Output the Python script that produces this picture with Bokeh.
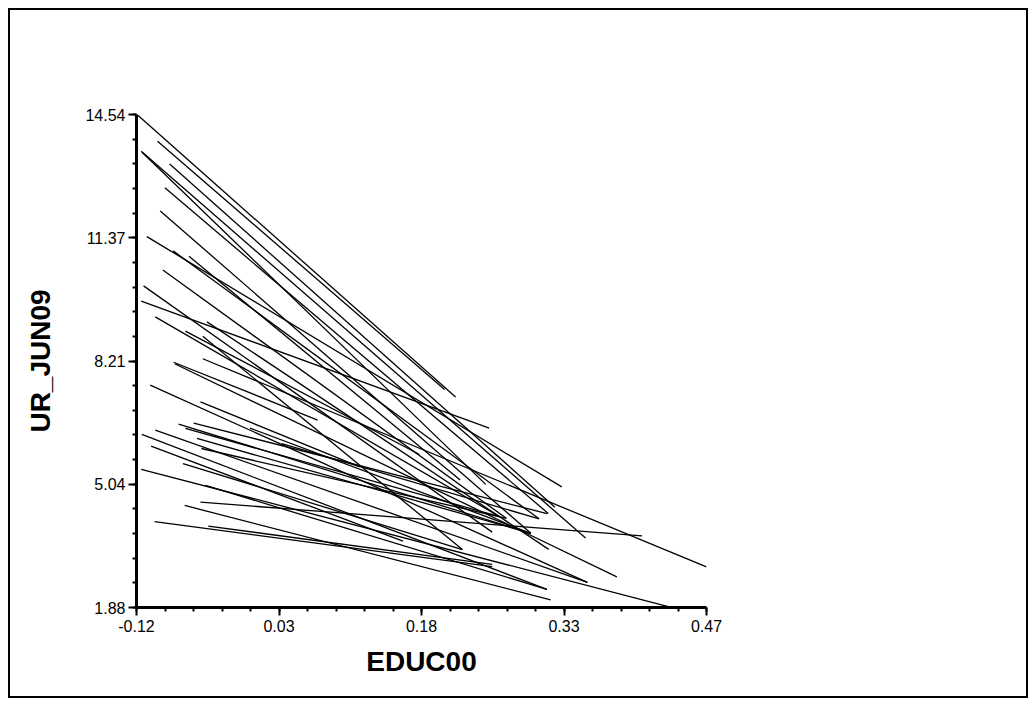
import numpy as np
from bokeh.plotting import figure
from bokeh.models import Range1d, FixedTicker, ColumnDataSource
from bokeh.embed import file_html
from bokeh.resources import INLINE

# Axis extents and printed tick labels
x_min, x_max = -0.12, 0.47
y_min, y_max = 1.88, 14.54
x_tick_labels = ["-0.12", "0.03", "0.18", "0.33", "0.47"]
y_tick_labels = ["1.88", "5.04", "8.21", "11.37", "14.54"]

# Fitted segments: EDUC00 (x) against UR_JUN09 (y), one per group
x_start = [-0.1186, -0.0982, -0.1151, -0.1143, -0.0857, -0.0906, -0.0954, -0.1093,
           -0.0821, -0.0657, -0.0927, -0.1127, -0.1151, -0.1006, -0.0470, -0.0694,
           -0.0514, -0.0514, -0.0816, -0.0805, -0.1058, -0.0538, -0.0764, -0.0608,
           -0.1006, -0.1145, -0.1049, -0.0026, 0.0303, -0.0719, -0.1151, -0.0538,
           -0.0701, -0.1013, -0.0457, -0.0694, -0.0574, -0.0528, -0.0486]
y_start = [14.52, 13.851, 13.598, 13.572, 13.268, 12.656, 12.062, 11.404,
           11.038, 10.901, 10.547, 10.139, 9.747, 9.344, 9.215, 8.978,
           8.844, 8.268, 8.178, 8.139, 7.589, 7.158, 6.591, 6.616,
           6.436, 6.325, 6.023, 6.487, 6.087, 5.576, 5.429, 4.585,
           4.500, 4.087, 3.971, 6.479, 6.221, 5.963, 5.016]
x_end = [0.2103, 0.1989, 0.3448, 0.2415, 0.3131, 0.3063, 0.2882, 0.3202,
         0.2967, 0.2150, 0.2628, 0.2482, 0.2451, 0.2560, 0.3067, 0.1729,
         0.2173, 0.4700, 0.0675, 0.3772, 0.3467, 0.1111, 0.2882, 0.3048,
         0.3467, 0.3048, 0.1558, 0.2882, 0.2967, 0.2173, 0.4315, 0.4032,
         0.3087, 0.2482, 0.2482, 0.2560, 0.2882, 0.2628, 0.3048]
y_end = [7.287, 7.481, 3.666, 5.042, 4.456, 4.293, 3.785, 4.977,
         4.157, 5.153, 4.170, 3.816, 6.487, 4.211, 3.372, 5.808,
         3.369, 2.925, 6.694, 2.667, 2.525, 5.493, 3.785, 4.293,
         2.525, 2.345, 3.584, 3.785, 4.157, 3.369, 1.893, 3.718,
         2.074, 2.931, 2.990, 4.211, 3.785, 4.170, 2.345]

src = ColumnDataSource(dict(x0=x_start, y0=y_start, x1=x_end, y1=y_end))

p = figure(width=1016, height=686, output_backend="svg", toolbar_location=None,
           x_range=Range1d(x_min, x_max), y_range=Range1d(y_min, y_max),
           min_border_left=126, min_border_right=324,
           min_border_top=104, min_border_bottom=93,
           x_axis_label="EDUC00", y_axis_label="UR_JUN09")
# thin frame around the whole page
p.styles = {"margin": "8px 0 0 8px", "border": "2px solid black",
            "box-sizing": "content-box"}
p.outline_line_color = None
p.background_fill_color = "white"
p.border_fill_color = "white"
p.grid.visible = False

p.segment(x0="x0", y0="y0", x1="x1", y1="y1", source=src,
          line_color="black", line_width=1.3)

x_major = list(np.linspace(x_min, x_max, 5))
y_major = list(np.linspace(y_min, y_max, 5))
x_minor = list(np.linspace(x_min, x_max, 21))
y_minor = list(np.linspace(y_min, y_max, 21))
p.xaxis.ticker = FixedTicker(ticks=x_major, minor_ticks=x_minor)
p.yaxis.ticker = FixedTicker(ticks=y_major, minor_ticks=y_minor)
p.xaxis.major_label_overrides = {t: s for t, s in zip(x_major, x_tick_labels)}
p.yaxis.major_label_overrides = {t: s for t, s in zip(y_major, y_tick_labels)}

for ax in (p.xaxis, p.yaxis):
    ax.axis_line_width = 3
    ax.axis_line_color = "black"
    ax.major_tick_line_width = 2
    ax.minor_tick_line_width = 2
    ax.major_tick_out = 8
    ax.major_tick_in = 0
    ax.minor_tick_out = 4
    ax.minor_tick_in = 0
    ax.major_label_text_font = "Liberation Sans"
    ax.major_label_text_font_size = "16px"
    ax.major_label_text_color = "black"
    ax.axis_label_text_font = "Liberation Sans"
    ax.axis_label_text_font_style = "bold"
    ax.axis_label_text_font_size = "28px"
    ax.axis_label_text_color = "black"

p.xaxis.major_label_standoff = 4
p.xaxis.axis_label_standoff = 11
p.yaxis.major_label_standoff = 3
p.yaxis.axis_label_standoff = 26

open("out.html", "w").write(file_html(p, INLINE))
